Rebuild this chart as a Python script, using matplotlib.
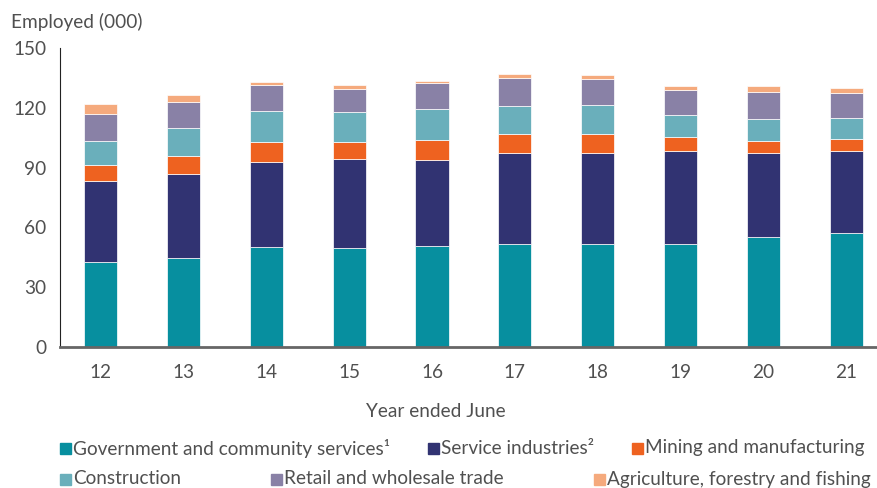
import numpy as np
import matplotlib.pyplot as plt
from matplotlib.patches import Rectangle

plt.rcParams['font.family'] = ['Lato', 'DejaVu Sans']

years = ["12", "13", "14", "15", "16", "17", "18", "19", "20", "21"]
government = [42.6, 44.4, 50.4, 49.7, 50.6, 51.5, 51.6, 51.5, 55.1, 57.0]
services = [40.8, 42.5, 42.6, 44.5, 43.4, 46.0, 45.9, 47.0, 42.2, 41.2]
mining = [7.9, 8.9, 10.0, 8.5, 9.7, 9.5, 9.2, 6.7, 6.2, 6.0]
construction = [12.1, 13.9, 15.3, 15.2, 15.6, 14.1, 14.6, 11.1, 10.9, 10.6]
retail = [13.7, 13.4, 12.9, 11.7, 13.2, 14.1, 13.4, 12.8, 13.7, 12.5]
agriculture = [4.9, 3.4, 1.5, 1.8, 0.9, 1.7, 1.7, 1.9, 2.6, 2.6]

series = [
    ("Government and community services\u00b9", government, "#078f9f"),
    ("Service industries\u00b2", services, "#313372"),
    ("Mining and manufacturing", mining, "#ee6220"),
    ("Construction", construction, "#6aafbb"),
    ("Retail and wholesale trade", retail, "#8981a6"),
    ("Agriculture, forestry and fishing", agriculture, "#f5aa7d"),
]

txt = "#505050"
fs = 13.7

fig = plt.figure(figsize=(8.77, 4.88), dpi=100)
ax = fig.add_axes([0.0684, 0.289, 0.943, 0.6126])

x = np.arange(len(years))
bottom = np.zeros(len(years))
for name, vals, col in series:
    ax.bar(x, vals, 0.4, bottom=bottom, color=col, edgecolor="white", linewidth=0.5, label=name)
    bottom += np.array(vals)

ax.set_xlim(-0.49, 9.49)
ax.set_ylim(0, 150)
ax.set_yticks([0, 30, 60, 90, 120, 150])
ax.set_xticks(x)
ax.set_xticklabels(years)
ax.tick_params(axis="both", length=0, labelsize=fs, colors=txt)
ax.tick_params(axis="x", pad=12)
ax.tick_params(axis="y", pad=10)
for s in ("top", "right"):
    ax.spines[s].set_visible(False)
ax.spines["left"].set_color("#222222")
ax.spines["left"].set_linewidth(0.8)
ax.spines["bottom"].set_color("#666666")
ax.spines["bottom"].set_linewidth(2)

fig.text(0.013, 0.955, "Employed (000)", fontsize=fs, color=txt, va="center")
fig.text(0.497, 0.156, "Year ended June", fontsize=fs, color=txt, ha="center", va="center")

# legend laid out by hand in two rows (pixel positions of each swatch)
legend_pos = [(60, 448), (428, 448), (632, 448), (60, 479), (271, 479), (594, 479)]
for (name, vals, col), (px, py) in zip(series, legend_pos):
    fy = 1 - py / 488
    fig.patches.append(Rectangle((px / 877, fy - 5.5 / 488), 11 / 877, 11 / 488,
                                 transform=fig.transFigure, color=col))
    fig.text((px + 13) / 877, fy, name, fontsize=fs, color=txt, va="center")

plt.savefig("out.png", dpi=100)
